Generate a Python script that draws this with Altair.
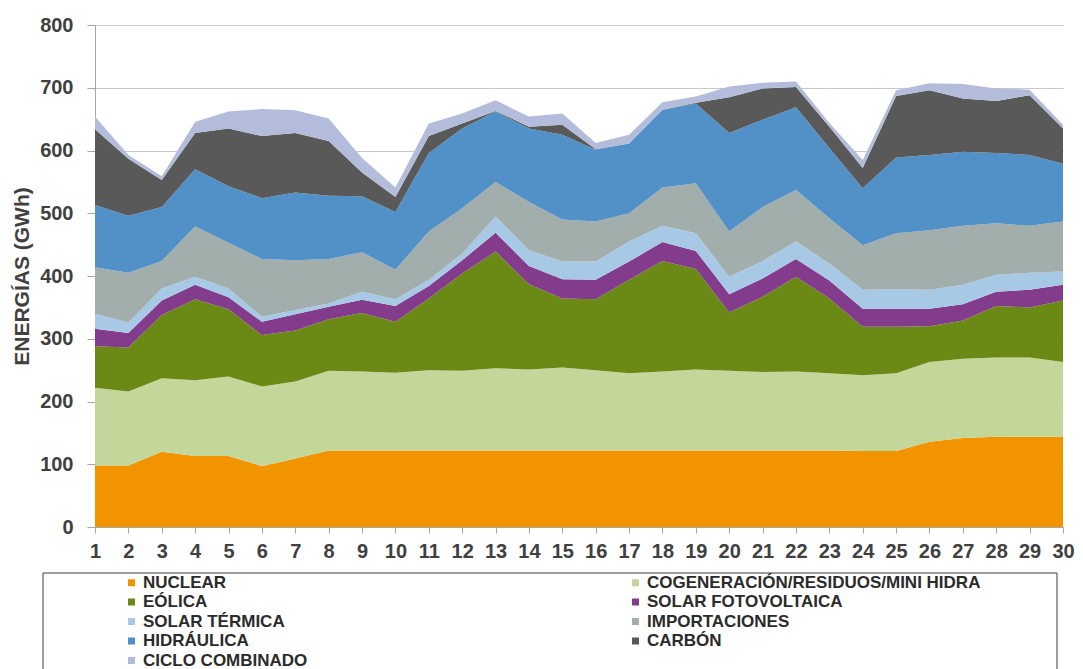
import altair as alt
import pandas as pd

dias = list(range(1, 31))

series = [
    "NUCLEAR",
    "COGENERACIÓN/RESIDUOS/MINI HIDRA",
    "EÓLICA",
    "SOLAR FOTOVOLTAICA",
    "SOLAR TÉRMICA",
    "IMPORTACIONES",
    "HIDRÁULICA",
    "CARBÓN",
    "CICLO COMBINADO",
]

colores = [
    "#F29400",
    "#C4D79B",
    "#6B8915",
    "#833C8B",
    "#A7C9E6",
    "#A2AEAC",
    "#5291C8",
    "#595959",
    "#B3BDDB",
]

nuclear = [98, 98, 120, 113, 113, 97, 109, 122, 122, 122, 122, 122, 122, 122, 122,
           122, 122, 122, 122, 122, 122, 122, 122, 121, 121, 136, 142, 144, 144, 144]
cogeneracion = [124, 118, 117, 121, 127, 127, 123, 127, 126, 124, 128, 127, 131, 129, 132,
                128, 123, 126, 129, 127, 125, 126, 123, 121, 124, 127, 126, 126, 126, 119]
eolica = [66, 70, 101, 129, 107, 82, 81, 82, 93, 81, 114, 155, 186, 136, 110,
          113, 149, 176, 160, 93, 120, 151, 119, 77, 74, 57, 61, 82, 80, 98]
fotovoltaica = [28, 23, 23, 23, 19, 21, 26, 20, 21, 25, 20, 21, 30, 29, 31,
                31, 29, 30, 29, 29, 29, 28, 29, 29, 29, 28, 26, 23, 28, 25]
termica = [24, 17, 19, 13, 14, 8, 7, 5, 13, 11, 10, 11, 26, 25, 28,
           29, 32, 26, 28, 28, 28, 28, 27, 30, 31, 30, 31, 27, 27, 21]
importaciones = [74, 79, 44, 80, 73, 92, 79, 71, 63, 47, 77, 72, 55, 77, 67,
                 64, 45, 61, 80, 72, 86, 82, 72, 71, 89, 95, 94, 82, 75, 80]
hidraulica = [99, 91, 86, 91, 90, 97, 108, 101, 89, 92, 125, 127, 112, 117, 135,
              114, 111, 124, 127, 157, 139, 132, 112, 91, 121, 120, 118, 112, 113, 92]
carbon = [121, 91, 43, 58, 92, 99, 95, 87, 38, 24, 27, 8, 1, 3, 16,
          1, 0, 0, 1, 57, 50, 32, 34, 32, 98, 103, 85, 83, 95, 56]
ciclo = [20, 6, 6, 18, 27, 43, 36, 36, 23, 15, 20, 16, 17, 16, 18,
         10, 14, 12, 10, 17, 9, 9, 6, 13, 9, 11, 23, 20, 9, 6]

valores = [nuclear, cogeneracion, eolica, fotovoltaica, termica,
           importaciones, hidraulica, carbon, ciclo]

filas = []
for i, (nombre, vals) in enumerate(zip(series, valores)):
    for d, v in zip(dias, vals):
        filas.append({"dia": d, "serie": nombre, "orden": i, "energia": v})
df = pd.DataFrame(filas)

FONT = "Liberation Sans"
TXT = "#404040"
GRIS = "#A6A6A6"

areas = alt.Chart(df).mark_area(interpolate="linear", opacity=1).encode(
    x=alt.X(
        "dia:Q",
        scale=alt.Scale(domain=[1, 30], nice=False, zero=False),
        axis=alt.Axis(
            values=dias, format="d", title=None, grid=False,
            labelFont=FONT, labelFontSize=20, labelFontWeight="bold",
            labelColor=TXT, labelPadding=8, tickSize=6,
            tickColor=GRIS, domainColor=GRIS, labelFlush=False,
        ),
    ),
    y=alt.Y(
        "energia:Q",
        stack="zero",
        scale=alt.Scale(domain=[0, 800], nice=False),
        axis=alt.Axis(
            values=list(range(0, 801, 100)),
            title="ENERGÍAS (GWh)",
            titleFont=FONT, titleFontSize=21, titleFontWeight="bold",
            titleColor=TXT, titleX=-73, titleY=251,
            titleAlign="center", titleBaseline="middle", titleAngle=270,
            labelFont=FONT, labelFontSize=20, labelFontWeight="bold",
            labelColor=TXT, labelPadding=14, tickSize=8,
            tickColor=GRIS, domainColor=GRIS,
            grid=True, gridColor="#C8C8C8", gridWidth=1,
        ),
    ),
    color=alt.Color(
        "serie:N",
        sort=series,
        scale=alt.Scale(domain=series, range=colores),
        legend=alt.Legend(
            title=None, orient="none", legendX=28, legendY=549,
            direction="horizontal",
            columns=2, columnPadding=319, rowPadding=1.5, padding=0,
            symbolType="square", symbolSize=49, symbolStrokeWidth=0,
            symbolOpacity=1, labelFont=FONT, labelFontSize=17,
            labelFontWeight="bold", labelColor="#2B2B2B", labelOffset=3,
            labelLimit=600,
        ),
    ),
    order=alt.Order("orden:Q", sort="ascending"),
)

marco = alt.Chart(alt.Data(values=[{"k": 0}])).mark_rect(
    fill="transparent", stroke="#3A3A3A", strokeWidth=1
).encode(
    x=alt.value(-52), x2=alt.value(962), y=alt.value(548), y2=alt.value(700)
)

chart = alt.layer(areas, marco).properties(
    width=968,
    height=502,
    autosize=alt.AutoSizeParams(type="none"),
    padding={"left": 87, "top": 17, "right": 12, "bottom": 142},
    background="white",
).configure_view(strokeWidth=0)

chart.save("out.html", embed_options={"renderer": "svg", "actions": False})
